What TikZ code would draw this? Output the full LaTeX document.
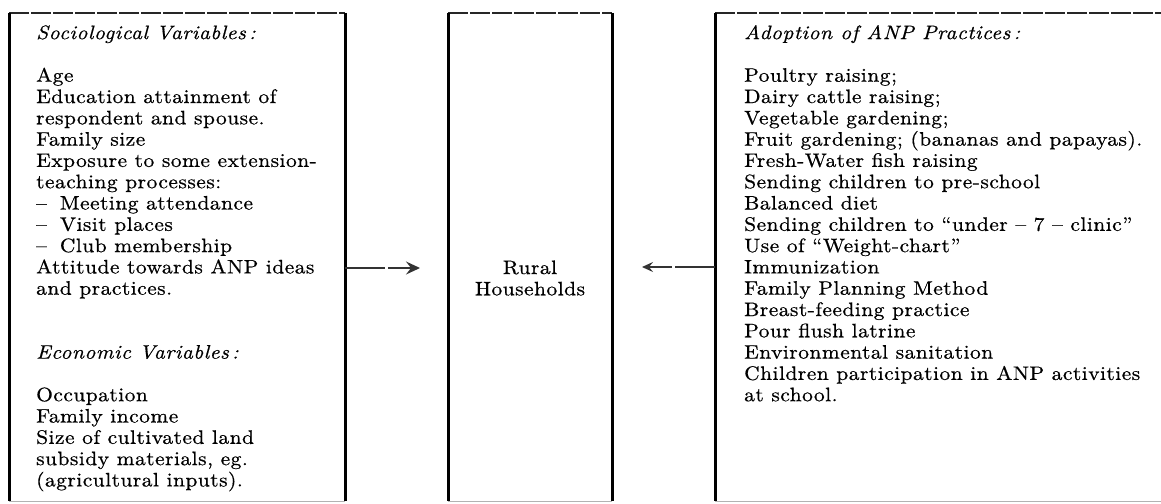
\documentclass[tikz,border=0pt]{standalone}
\usepackage{fontspec}
\setmainfont{lmroman10-regular}[Extension=.otf,ItalicFont=lmroman10-italic,BoldFont=lmroman10-bold,FakeStretch=1.10,LetterSpace=2.5,FakeBold=0.6]
\usetikzlibrary{arrows.meta,calc}
\begin{document}
\begin{tikzpicture}[x=1pt,y=-1pt,
  side/.style={line width=3pt,black,line cap=butt},
  topedge/.style={line width=2pt,black!85,dash pattern=on 20pt off 2pt},
  botedge/.style={line width=1.2pt,black!30},
  boxarea/.style={draw=none,inner sep=0pt,anchor=north west},
  txt/.style={inner sep=0pt,anchor=north west,align=left,font=\fontsize{19.5}{21.3}\selectfont},
  ctxt/.style={inner sep=0pt,align=center,font=\fontsize{19.5}{21.3}\selectfont},
  conn/.style={line width=1.6pt,black!80,dash pattern=on 40pt off 3pt}
]
\useasboundingbox (0,0) rectangle (1161,503);
% box areas
\node[boxarea,minimum width=336pt,minimum height=488pt] (L) at (9,13) {};
\node[boxarea,minimum width=164pt,minimum height=488pt] (M) at (448,13) {};
\node[boxarea,minimum width=446pt,minimum height=488pt] (R) at (715,13) {};
% left box edges
\draw[topedge] (L.north west) -- (L.north east);
\draw[botedge] (L.south west) -- (L.south east);
\draw[side] (L.north west) -- (L.south west);
\draw[side] (L.north east) -- (L.south east);
% middle box edges
\draw[topedge] (M.north west) -- (M.north east);
\draw[botedge] (M.south west) -- (M.south east);
\draw[side] (M.north west) -- (M.south west);
\draw[side] (M.north east) -- (M.south east);
% right box edges
\draw[topedge] (R.north west) -- (R.north east);
\draw[botedge] (R.south west) -- (R.south east);
\draw[side] (R.north west) -- (R.south west);
% texts
\node[txt] (Ltext) at (36,24) {\strut\textit{Sociological Variables\,:}\\[21.3pt]
Age\\
Education attainment of\\
respondent and spouse.\\
Family size\\
Exposure to some extension-\\
teaching processes:\\
--\hspace{13pt}Meeting attendance\\
--\hspace{13pt}Visit places\\
--\hspace{13pt}Club membership\\
Attitude towards ANP ideas\\
and practices.\\[42.6pt]
\textit{Economic Variables\,:}\\[21.3pt]
Occupation\\
Family income\\
Size of cultivated land\\
subsidy materials, eg.\\
(agricultural inputs).};
\node[ctxt] (Mtext) at (530,278) {Rural\\Households};
\node[txt] (Rtext) at (744,24) {\strut\textit{Adoption of ANP Practices\,:}\\[21.3pt]
Poultry raising;\\
Dairy cattle raising;\\
Vegetable gardening;\\
Fruit gardening; (bananas and papayas).\\
Fresh-Water fish raising\\
Sending children to pre-school\\
Balanced diet\\
Sending children to ``under -- 7 -- clinic''\\
Use of ``Weight-chart''\\
Immunization\\
Family Planning Method\\
Breast-feeding practice\\
Pour flush latrine\\
Environmental sanitation\\
Children participation in ANP activities\\
at school.};
% connectors
\coordinate (a1) at (L.east |- 0,268);
\coordinate (a2) at (420,268);
\coordinate (b1) at (R.west |- 0,267);
\coordinate (b2) at (642,267);
\draw[conn,-{Stealth[length=14pt,width=13pt,inset=5pt]}] (a1) -- (a2);
\draw[conn,-{Stealth[length=11pt,width=10pt,inset=4pt]}] (b1) -- (b2);
\end{tikzpicture}
\end{document}
